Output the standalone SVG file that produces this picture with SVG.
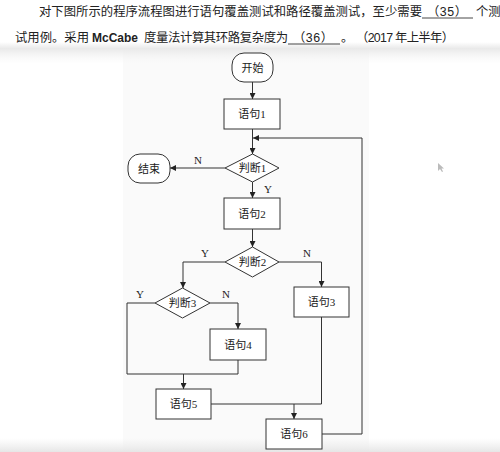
<svg xmlns="http://www.w3.org/2000/svg" width="500" height="452" viewBox="0 0 500 452">
<defs>
<marker id="ah" viewBox="0 0 10 10" refX="10" refY="5" markerWidth="6" markerHeight="6" orient="auto" markerUnits="userSpaceOnUse">
<path d="M0,0 L10,5 L0,10 z" fill="#222"/>
</marker>
<linearGradient id="topband" x1="0" y1="0" x2="0" y2="1">
<stop offset="0" stop-color="#e9e9e9" stop-opacity="0"/>
<stop offset="0.3" stop-color="#e9e9e9" stop-opacity="1"/>
<stop offset="1" stop-color="#f6f6f6" stop-opacity="0"/>
</linearGradient>
<linearGradient id="botband" x1="0" y1="0" x2="0" y2="1">
<stop offset="0" stop-color="#ececec" stop-opacity="0"/>
<stop offset="1" stop-color="#e6e6e6" stop-opacity="1"/>
</linearGradient>
</defs>
<style>
.hd{font-family:"Liberation Sans","Noto Sans CJK SC",sans-serif;font-size:12.35px;fill:#222}
.bx{fill:#fff;stroke:#333;stroke-width:1}
.lb{font-family:"Liberation Serif","Noto Sans CJK SC",serif;font-size:11px;fill:#222;text-anchor:middle;dominant-baseline:central}
.yn{font-family:"Liberation Serif","Noto Sans CJK SC",serif;font-size:11px;fill:#222;text-anchor:middle}
.cn{fill:none;stroke:#333;stroke-width:1}
.ar{marker-end:url(#ah)}
</style>
<rect x="0" y="0" width="500" height="452" fill="#ffffff"/>
<rect x="123" y="48" width="246" height="404" fill="#fafafa"/>
<rect x="0" y="42" width="500" height="22" fill="url(#topband)"/>
<rect x="0" y="438" width="500" height="14" fill="url(#botband)"/>

<g id="header">
<text class="hd" x="39" y="15.5" textLength="383" lengthAdjust="spacing">对下图所示的程序流程图进行语句覆盖测试和路径覆盖测试，至少需要</text>
<text class="hd" x="427" y="15.5" textLength="40" lengthAdjust="spacing">（35）</text>
<line x1="422" y1="18" x2="473" y2="18" stroke="#333" stroke-width="0.9"/>
<text class="hd" x="476" y="15.5">个测</text>
<text class="hd" x="15" y="41.5" textLength="74" lengthAdjust="spacing">试用例。采用</text>
<text class="hd" x="92" y="41.5" font-weight="bold" textLength="46" lengthAdjust="spacingAndGlyphs">McCabe</text>
<text class="hd" x="144" y="41.5" textLength="144" lengthAdjust="spacing">度量法计算其环路复杂度为</text>
<text class="hd" x="293" y="41.5" textLength="40" lengthAdjust="spacing">（36）</text>
<line x1="288" y1="44" x2="340" y2="44" stroke="#333" stroke-width="0.9"/>
<text class="hd" x="341" y="41.5">。</text>
<text class="hd" x="356" y="41.5" textLength="98" lengthAdjust="spacing">（2017 年上半年）</text>
</g>

<g id="connectors">
<line class="cn ar" x1="252.5" y1="82" x2="252.5" y2="99"/>
<line class="cn ar" x1="252.5" y1="129" x2="252.5" y2="154"/>
<polyline class="cn ar" points="322,434 362,434 362,138 253,138"/>
<line class="cn ar" x1="225" y1="168" x2="170" y2="168"/>
<line class="cn ar" x1="252.5" y1="182" x2="252.5" y2="198"/>
<line class="cn ar" x1="252.5" y1="229" x2="252.5" y2="247"/>
<polyline class="cn ar" points="225,262 183,262 183,288"/>
<polyline class="cn ar" points="279,262 321.5,262 321.5,287"/>
<polyline class="cn ar" points="210,303 238,303 238,329"/>
<polyline class="cn" points="155,303 127,303 127,374 238,374 238,360"/>
<line class="cn ar" x1="183.5" y1="374" x2="183.5" y2="389"/>
<polyline class="cn" points="211,404 321.5,404 321.5,317"/>
<line class="cn ar" x1="294" y1="404" x2="294" y2="419"/>
<text class="yn" x="198" y="164">N</text>
<text class="yn" x="268" y="193">Y</text>
<text class="yn" x="205" y="257">Y</text>
<text class="yn" x="307" y="257">N</text>
<text class="yn" x="140" y="298">Y</text>
<text class="yn" x="226" y="298">N</text>
</g>

<g id="start"><rect class="bx" x="232" y="53" width="41" height="29" rx="12"/><text class="lb" x="252.5" y="67.5">开始</text></g>
<g id="s1"><rect class="bx" x="224" y="99" width="56" height="30"/><text class="lb" x="252" y="114">语句1</text></g>
<g id="d1"><polygon class="bx" points="252.5,154 279,168 252.5,182 225,168"/><text class="lb" x="252.5" y="168">判断1</text></g>
<g id="end"><rect class="bx" x="128" y="154" width="42" height="29" rx="12"/><text class="lb" x="149" y="168.5">结束</text></g>
<g id="s2"><rect class="bx" x="224" y="198" width="56" height="31"/><text class="lb" x="252" y="213.5">语句2</text></g>
<g id="d2"><polygon class="bx" points="252.5,247 279,262 252.5,277 225,262"/><text class="lb" x="252.5" y="262">判断2</text></g>
<g id="d3"><polygon class="bx" points="182.5,288 210,303 182.5,318 155,303"/><text class="lb" x="182.5" y="303">判断3</text></g>
<g id="s3"><rect class="bx" x="294" y="287" width="55" height="30"/><text class="lb" x="321.5" y="302">语句3</text></g>
<g id="s4"><rect class="bx" x="210" y="329" width="56" height="31"/><text class="lb" x="238" y="344.5">语句4</text></g>
<g id="s5"><rect class="bx" x="156" y="389" width="55" height="30"/><text class="lb" x="183.5" y="404">语句5</text></g>
<g id="s6"><rect class="bx" x="266" y="419" width="56" height="30"/><text class="lb" x="294" y="434">语句6</text></g>

<path d="M438,163 L438,171 L440,169 L442,172 L443,171.5 L441.5,168.5 L444,168.5 z" fill="#bbb"/>
</svg>
